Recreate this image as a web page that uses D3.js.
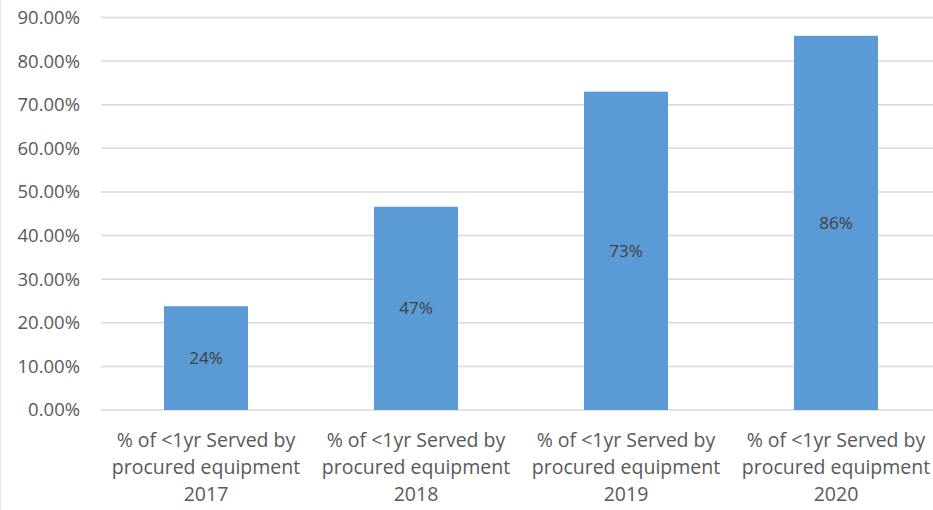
<!DOCTYPE html>
<html>
<head>
<meta charset="utf-8">
<script src="https://cdn.jsdelivr.net/npm/d3@7"></script>
<style>
  html, body { margin: 0; padding: 0; background: #fff; }
  svg { display: block; font-family: "Open Sans", "Liberation Sans", sans-serif; }
</style>
</head>
<body>
<script>
(function () {
  'use strict';

  var categories = [
    ['% of <1yr Served by', 'procured equipment', '2017'],
    ['% of <1yr Served by', 'procured equipment', '2018'],
    ['% of <1yr Served by', 'procured equipment', '2019'],
    ['% of <1yr Served by', 'procured equipment', '2020']
  ];
  var values = [0.238, 0.466, 0.73, 0.858];
  var valueLabels = ['24%', '47%', '73%', '86%'];
  var yTicks = [0, 0.1, 0.2, 0.3, 0.4, 0.5, 0.6, 0.7, 0.8, 0.9];

  var width = 933,
    height = 510,
    margin = { top: 17.5, right: -8, bottom: 100, left: 101 };

  var svg = d3.select('body')
    .append('svg')
    .attr('width', width)
    .attr('height', height);

  svg.append('line')
    .attr('x1', 0.5).attr('x2', 0.5)
    .attr('y1', 0).attr('y2', height)
    .attr('stroke', '#e6e6e6');

  var x = d3.scaleBand()
    .domain(d3.range(categories.length))
    .range([margin.left, width - margin.right])
    .paddingInner(0.6)
    .paddingOuter(0.3);

  var y = d3.scaleLinear()
    .domain([0, 0.9])
    .range([height - margin.bottom, margin.top]);

  // gridlines
  svg.append('g')
    .selectAll('line')
    .data(yTicks)
    .enter()
    .append('line')
    .attr('x1', margin.left)
    .attr('x2', width)
    .attr('y1', function (d) { return y(d); })
    .attr('y2', function (d) { return y(d); })
    .attr('stroke', '#d9d9d9')
    .attr('stroke-width', 1.5);

  // y axis labels
  var yAxis = d3.axisLeft(y)
    .tickValues(yTicks)
    .tickSize(0)
    .tickPadding(21)
    .tickFormat(d3.format('.2%'));

  svg.append('g')
    .attr('transform', 'translate(' + margin.left + ',0)')
    .call(yAxis)
    .call(function (g) { g.select('.domain').remove(); })
    .selectAll('text')
    .attr('font-family', '"Open Sans", "Liberation Sans", sans-serif')
    .attr('font-size', 18.5)
    .attr('fill', '#595959');

  // bars
  svg.append('g')
    .selectAll('rect')
    .data(values)
    .enter()
    .append('rect')
    .attr('x', function (d, i) { return x(i); })
    .attr('y', function (d) { return y(d); })
    .attr('width', x.bandwidth())
    .attr('height', function (d) { return y(0) - y(d); })
    .attr('fill', '#5b9bd5');

  // value labels
  svg.append('g')
    .selectAll('text')
    .data(values)
    .enter()
    .append('text')
    .attr('x', function (d, i) { return x(i) + x.bandwidth() / 2; })
    .attr('y', function (d) { return (y(d) + y(0)) / 2; })
    .attr('dy', '0.35em')
    .attr('text-anchor', 'middle')
    .attr('font-size', 17)
    .attr('fill', '#404040')
    .text(function (d, i) { return valueLabels[i]; });

  // category labels
  var cat = svg.append('g')
    .selectAll('text')
    .data(categories)
    .enter()
    .append('text')
    .attr('x', function (d, i) { return x(i) + x.bandwidth() / 2; })
    .attr('y', y(0) + 37)
    .attr('text-anchor', 'middle')
    .attr('font-size', 19.5)
    .attr('fill', '#595959');

  cat.selectAll('tspan')
    .data(function (d) { return d; })
    .enter()
    .append('tspan')
    .attr('x', function () { return d3.select(this.parentNode).attr('x'); })
    .attr('dy', function (d, i) { return i === 0 ? 0 : 27; })
    .text(function (d) { return d; });
}());
</script>
</body>
</html>
